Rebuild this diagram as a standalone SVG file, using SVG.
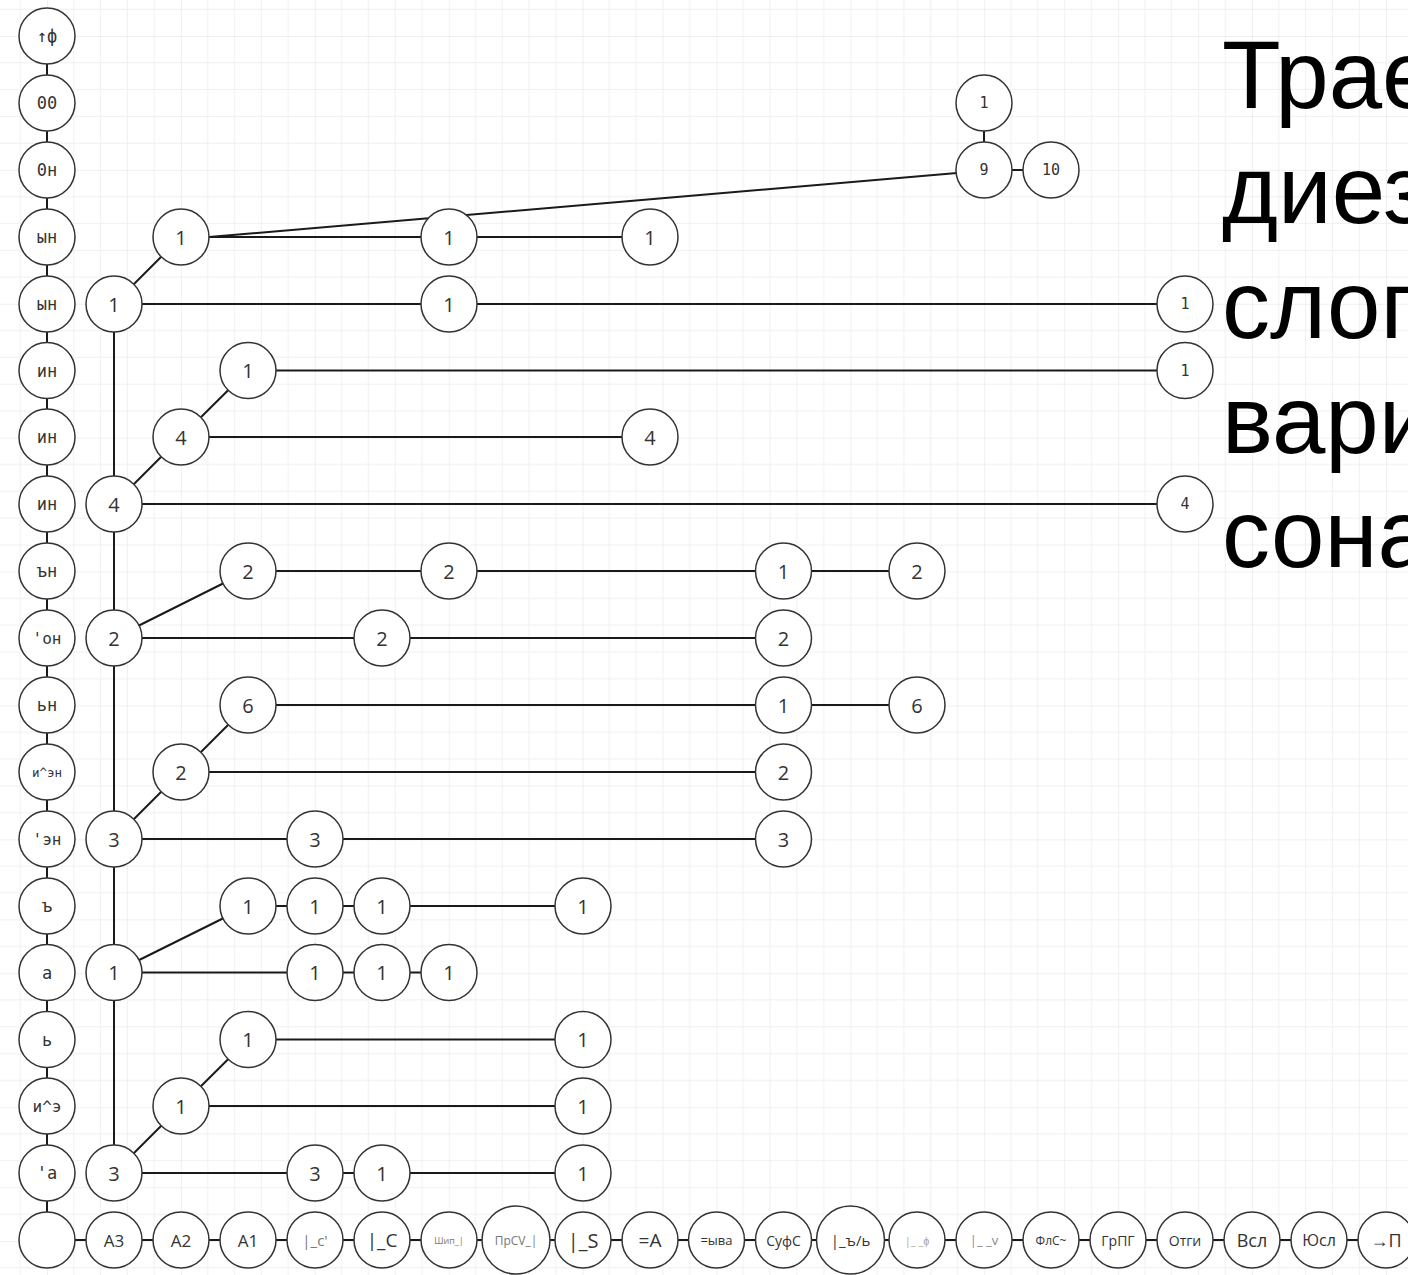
<svg xmlns="http://www.w3.org/2000/svg" width="1408" height="1275" viewBox="0 0 1408 1275">
<style>
.n{fill:#fff;stroke:#333;stroke-width:1.5}
.e{stroke:#1a1a1a;stroke-width:2;fill:none}
.t{font-family:"Open Sans","Liberation Sans",sans-serif;font-size:20px;fill:#333;text-anchor:middle;dominant-baseline:central}
.m{font-family:"DejaVu Sans Mono","Liberation Mono",monospace;font-size:15px;fill:#333;text-anchor:middle;dominant-baseline:central}
.l{font-family:"DejaVu Sans Mono","Liberation Mono",monospace;font-size:17px;fill:#333;text-anchor:middle;dominant-baseline:central}
.b{font-family:"Open Sans","Liberation Sans",sans-serif;fill:#333;text-anchor:middle;dominant-baseline:central}
.title{font-family:"Liberation Sans",Arial,sans-serif;font-size:96px;fill:#000}
</style>
<defs>
<pattern id="grid" patternUnits="userSpaceOnUse" x="47" y="36" width="133.9" height="133.9">
<path d="M26.78 0V133.9M53.56 0V133.9M80.34 0V133.9M107.12 0V133.9M0 26.78H133.9M0 53.56H133.9M0 80.34H133.9M0 107.12H133.9" stroke="#f0f0f0" stroke-width="1" fill="none"/>
<path d="M0 0V133.9M0 0H133.9" stroke="#e2e2e2" stroke-width="1" fill="none"/>
</pattern>
</defs>
<rect width="1408" height="1275" fill="#fff"/>
<rect width="1408" height="1275" fill="url(#grid)"/>

<g id="connectors" class="e">
<line x1="47" y1="36" x2="47" y2="1240"/>
<line x1="47" y1="1240" x2="1408" y2="1240"/>
<line x1="984" y1="103" x2="984" y2="170"/>
<line x1="984" y1="170" x2="1051" y2="170"/>
<line x1="209" y1="237" x2="957" y2="173"/>
<line x1="181" y1="237" x2="650" y2="237"/>
<line x1="114" y1="304" x2="1185" y2="304"/>
<line x1="248" y1="370.5" x2="1185" y2="370.5"/>
<line x1="181" y1="437" x2="650" y2="437"/>
<line x1="114" y1="504" x2="1185" y2="504"/>
<line x1="248" y1="571" x2="917" y2="571"/>
<line x1="114" y1="638" x2="783.5" y2="638"/>
<line x1="248" y1="705" x2="917" y2="705"/>
<line x1="181" y1="772" x2="783.5" y2="772"/>
<line x1="114" y1="839" x2="783.5" y2="839"/>
<line x1="248" y1="906" x2="583" y2="906"/>
<line x1="114" y1="972.5" x2="449" y2="972.5"/>
<line x1="248" y1="1039.5" x2="583" y2="1039.5"/>
<line x1="181" y1="1106" x2="583" y2="1106"/>
<line x1="114" y1="1173" x2="583" y2="1173"/>
<line x1="114" y1="304" x2="114" y2="1173"/>
<line x1="114" y1="304" x2="181" y2="237"/>
<line x1="181" y1="437" x2="248" y2="370.5"/>
<line x1="114" y1="504" x2="181" y2="437"/>
<line x1="114" y1="638" x2="248" y2="571"/>
<line x1="181" y1="772" x2="248" y2="705"/>
<line x1="114" y1="839" x2="181" y2="772"/>
<line x1="114" y1="972.5" x2="248" y2="906"/>
<line x1="181" y1="1106" x2="248" y2="1039.5"/>
<line x1="114" y1="1173" x2="181" y2="1106"/>
</g>

<g id="left-column">
<g id="L0"><circle class="n" cx="47" cy="36" r="28"/><text class="l" x="47" y="36">↑ф</text></g>
<g id="L1"><circle class="n" cx="47" cy="103" r="28"/><text class="l" x="47" y="103">00</text></g>
<g id="L2"><circle class="n" cx="47" cy="170" r="28"/><text class="l" x="47" y="170">0н</text></g>
<g id="L3"><circle class="n" cx="47" cy="237" r="28"/><text class="l" x="47" y="237">ын</text></g>
<g id="L4"><circle class="n" cx="47" cy="304" r="28"/><text class="l" x="47" y="304">ын</text></g>
<g id="L5"><circle class="n" cx="47" cy="370.5" r="28"/><text class="l" x="47" y="370.5">ин</text></g>
<g id="L6"><circle class="n" cx="47" cy="437" r="28"/><text class="l" x="47" y="437">ин</text></g>
<g id="L7"><circle class="n" cx="47" cy="504" r="28"/><text class="l" x="47" y="504">ин</text></g>
<g id="L8"><circle class="n" cx="47" cy="571" r="28"/><text class="l" x="47" y="571">ън</text></g>
<g id="L9"><circle class="n" cx="47" cy="638" r="28"/><text class="l" x="47" y="638" style="font-size:16px">'он</text></g>
<g id="L10"><circle class="n" cx="47" cy="705" r="28"/><text class="l" x="47" y="705">ьн</text></g>
<g id="L11"><circle class="n" cx="47" cy="772" r="28"/><text class="l" x="47" y="772" style="font-size:12.5px">и^эн</text></g>
<g id="L12"><circle class="n" cx="47" cy="839" r="28"/><text class="l" x="47" y="839" style="font-size:16px">'эн</text></g>
<g id="L13"><circle class="n" cx="47" cy="906" r="28"/><text class="l" x="47" y="906">ъ</text></g>
<g id="L14"><circle class="n" cx="47" cy="972.5" r="28"/><text class="l" x="47" y="972.5">а</text></g>
<g id="L15"><circle class="n" cx="47" cy="1039.5" r="28"/><text class="l" x="47" y="1039.5">ь</text></g>
<g id="L16"><circle class="n" cx="47" cy="1106" r="28"/><text class="l" x="47" y="1106" style="font-size:16px">и^э</text></g>
<g id="L17"><circle class="n" cx="47" cy="1173" r="28"/><text class="l" x="47" y="1173">'а</text></g>
<g id="L18"><circle class="n" cx="47" cy="1240" r="28"/></g>
</g>

<g id="bottom-row">
<g id="B1"><circle class="n" cx="114" cy="1240" r="28"/><text class="b" x="114" y="1240" style="font-size:17px">А3</text></g>
<g id="B2"><circle class="n" cx="181" cy="1240" r="28"/><text class="b" x="181" y="1240" style="font-size:17px">А2</text></g>
<g id="B3"><circle class="n" cx="248" cy="1240" r="28"/><text class="b" x="248" y="1240" style="font-size:17px">А1</text></g>
<g id="B4"><circle class="n" cx="315" cy="1240" r="28"/><text class="b" x="315" y="1240" style="font-size:15px;fill:#777">|_с'</text></g>
<g id="B5"><circle class="n" cx="382" cy="1240" r="28"/><text class="b" x="382" y="1240" style="font-size:19px">|_С</text></g>
<g id="B6"><circle class="n" cx="449" cy="1240" r="28"/><text class="b" x="449" y="1240" style="font-size:9px;fill:#777">Шип_|</text></g>
<g id="B7"><circle class="n" cx="516" cy="1240" r="34"/><text class="b" x="516" y="1240" style="font-size:12px;fill:#777">ПрCV_|</text></g>
<g id="B8"><circle class="n" cx="583" cy="1240" r="28"/><text class="b" x="583" y="1240" style="font-size:20px">|_S</text></g>
<g id="B9"><circle class="n" cx="650" cy="1240" r="28"/><text class="b" x="650" y="1240" style="font-size:19px">=А</text></g>
<g id="B10"><circle class="n" cx="716.5" cy="1240" r="28"/><text class="b" x="716.5" y="1240" style="font-size:13px">=ыва</text></g>
<g id="B11"><circle class="n" cx="783.5" cy="1240" r="28"/><text class="b" x="783.5" y="1240" style="font-size:14px">СуфС</text></g>
<g id="B12"><circle class="n" cx="850.5" cy="1240" r="34"/><text class="b" x="850.5" y="1240" style="font-size:15px">|_ъ/ь</text></g>
<g id="B13"><circle class="n" cx="917" cy="1240" r="28"/><text class="b" x="917" y="1240" style="font-size:11px;fill:#aaa">|_ _ɸ</text></g>
<g id="B14"><circle class="n" cx="984" cy="1240" r="28"/><text class="b" x="984" y="1240" style="font-size:13px;fill:#888">|_ _v</text></g>
<g id="B15"><circle class="n" cx="1051" cy="1240" r="28"/><text class="b" x="1051" y="1240" style="font-size:12px">ФлС~</text></g>
<g id="B16"><circle class="n" cx="1118" cy="1240" r="28"/><text class="b" x="1118" y="1240" style="font-size:14px">ГрПГ</text></g>
<g id="B17"><circle class="n" cx="1185" cy="1240" r="28"/><text class="b" x="1185" y="1240" style="font-size:14px">Отги</text></g>
<g id="B18"><circle class="n" cx="1252" cy="1240" r="28"/><text class="b" x="1252" y="1240" style="font-size:18px">Всл</text></g>
<g id="B19"><circle class="n" cx="1319" cy="1240" r="28"/><text class="b" x="1319" y="1240" style="font-size:16px">Юсл</text></g>
<g id="B20"><circle class="n" cx="1386" cy="1240" r="28"/><text class="b" x="1386" y="1240" style="font-size:18px">→П</text></g>
</g>

<g id="nodes">
<g id="n1_14"><circle class="n" cx="984" cy="103" r="28"/><text class="m" x="984" y="103">1</text></g>
<g id="n2_14"><circle class="n" cx="984" cy="170" r="28"/><text class="m" x="984" y="170">9</text></g>
<g id="n2_15"><circle class="n" cx="1051" cy="170" r="28"/><text class="m" x="1051" y="170">10</text></g>
<g id="n3_2"><circle class="n" cx="181" cy="237" r="28"/><text class="t" x="181" y="237">1</text></g>
<g id="n3_6"><circle class="n" cx="449" cy="237" r="28"/><text class="t" x="449" y="237">1</text></g>
<g id="n3_9"><circle class="n" cx="650" cy="237" r="28"/><text class="t" x="650" y="237">1</text></g>
<g id="n4_1"><circle class="n" cx="114" cy="304" r="28"/><text class="t" x="114" y="304">1</text></g>
<g id="n4_6"><circle class="n" cx="449" cy="304" r="28"/><text class="t" x="449" y="304">1</text></g>
<g id="n4_17"><circle class="n" cx="1185" cy="304" r="28"/><text class="m" x="1185" y="304">1</text></g>
<g id="n5_3"><circle class="n" cx="248" cy="370.5" r="28"/><text class="t" x="248" y="370.5">1</text></g>
<g id="n5_17"><circle class="n" cx="1185" cy="370.5" r="28"/><text class="m" x="1185" y="370.5">1</text></g>
<g id="n6_2"><circle class="n" cx="181" cy="437" r="28"/><text class="t" x="181" y="437">4</text></g>
<g id="n6_9"><circle class="n" cx="650" cy="437" r="28"/><text class="t" x="650" y="437">4</text></g>
<g id="n7_1"><circle class="n" cx="114" cy="504" r="28"/><text class="t" x="114" y="504">4</text></g>
<g id="n7_17"><circle class="n" cx="1185" cy="504" r="28"/><text class="m" x="1185" y="504">4</text></g>
<g id="n8_3"><circle class="n" cx="248" cy="571" r="28"/><text class="t" x="248" y="571">2</text></g>
<g id="n8_6"><circle class="n" cx="449" cy="571" r="28"/><text class="t" x="449" y="571">2</text></g>
<g id="n8_11"><circle class="n" cx="783.5" cy="571" r="28"/><text class="t" x="783.5" y="571">1</text></g>
<g id="n8_13"><circle class="n" cx="917" cy="571" r="28"/><text class="t" x="917" y="571">2</text></g>
<g id="n9_1"><circle class="n" cx="114" cy="638" r="28"/><text class="t" x="114" y="638">2</text></g>
<g id="n9_5"><circle class="n" cx="382" cy="638" r="28"/><text class="t" x="382" y="638">2</text></g>
<g id="n9_11"><circle class="n" cx="783.5" cy="638" r="28"/><text class="t" x="783.5" y="638">2</text></g>
<g id="n10_3"><circle class="n" cx="248" cy="705" r="28"/><text class="t" x="248" y="705">6</text></g>
<g id="n10_11"><circle class="n" cx="783.5" cy="705" r="28"/><text class="t" x="783.5" y="705">1</text></g>
<g id="n10_13"><circle class="n" cx="917" cy="705" r="28"/><text class="t" x="917" y="705">6</text></g>
<g id="n11_2"><circle class="n" cx="181" cy="772" r="28"/><text class="t" x="181" y="772">2</text></g>
<g id="n11_11"><circle class="n" cx="783.5" cy="772" r="28"/><text class="t" x="783.5" y="772">2</text></g>
<g id="n12_1"><circle class="n" cx="114" cy="839" r="28"/><text class="t" x="114" y="839">3</text></g>
<g id="n12_4"><circle class="n" cx="315" cy="839" r="28"/><text class="t" x="315" y="839">3</text></g>
<g id="n12_11"><circle class="n" cx="783.5" cy="839" r="28"/><text class="t" x="783.5" y="839">3</text></g>
<g id="n13_3"><circle class="n" cx="248" cy="906" r="28"/><text class="t" x="248" y="906">1</text></g>
<g id="n13_4"><circle class="n" cx="315" cy="906" r="28"/><text class="t" x="315" y="906">1</text></g>
<g id="n13_5"><circle class="n" cx="382" cy="906" r="28"/><text class="t" x="382" y="906">1</text></g>
<g id="n13_8"><circle class="n" cx="583" cy="906" r="28"/><text class="t" x="583" y="906">1</text></g>
<g id="n14_1"><circle class="n" cx="114" cy="972.5" r="28"/><text class="t" x="114" y="972.5">1</text></g>
<g id="n14_4"><circle class="n" cx="315" cy="972.5" r="28"/><text class="t" x="315" y="972.5">1</text></g>
<g id="n14_5"><circle class="n" cx="382" cy="972.5" r="28"/><text class="t" x="382" y="972.5">1</text></g>
<g id="n14_6"><circle class="n" cx="449" cy="972.5" r="28"/><text class="t" x="449" y="972.5">1</text></g>
<g id="n15_3"><circle class="n" cx="248" cy="1039.5" r="28"/><text class="t" x="248" y="1039.5">1</text></g>
<g id="n15_8"><circle class="n" cx="583" cy="1039.5" r="28"/><text class="t" x="583" y="1039.5">1</text></g>
<g id="n16_2"><circle class="n" cx="181" cy="1106" r="28"/><text class="t" x="181" y="1106">1</text></g>
<g id="n16_8"><circle class="n" cx="583" cy="1106" r="28"/><text class="t" x="583" y="1106">1</text></g>
<g id="n17_1"><circle class="n" cx="114" cy="1173" r="28"/><text class="t" x="114" y="1173">3</text></g>
<g id="n17_4"><circle class="n" cx="315" cy="1173" r="28"/><text class="t" x="315" y="1173">3</text></g>
<g id="n17_5"><circle class="n" cx="382" cy="1173" r="28"/><text class="t" x="382" y="1173">1</text></g>
<g id="n17_8"><circle class="n" cx="583" cy="1173" r="28"/><text class="t" x="583" y="1173">1</text></g>
</g>

<g id="title" class="title">
<text x="1222" y="108">Трае</text>
<text x="1222" y="223">диез</text>
<text x="1222" y="338">слог</text>
<text x="1222" y="453">вари</text>
<text x="1222" y="567">сона</text>
</g>
</svg>
